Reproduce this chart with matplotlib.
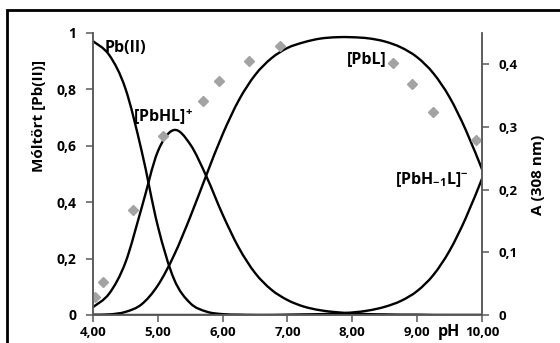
import numpy as np
import matplotlib
matplotlib.use("Agg")
import matplotlib.pyplot as plt
from matplotlib.path import Path
from matplotlib.patches import PathPatch, Rectangle
from matplotlib.ticker import FixedLocator, FuncFormatter

plt.rcParams["font.family"] = ["Open Sans", "DejaVu Sans"]
plt.rcParams["font.weight"] = "bold"
plt.rcParams["mathtext.fontset"] = "custom"
plt.rcParams["mathtext.rm"] = "Open Sans:bold"
plt.rcParams["mathtext.bf"] = "Open Sans:bold"
plt.rcParams["mathtext.it"] = "Open Sans:bold"

# Species distribution (mole fraction of Pb(II)) vs pH
ph = [4.00, 4.25, 4.50, 4.75, 5.00, 5.25, 5.50, 5.75, 6.00, 6.25, 6.50, 6.75, 7.00,
      7.25, 7.50, 7.75, 8.00, 8.25, 8.50, 8.75, 9.00, 9.25, 9.50, 9.75, 10.00]
pb_free = [0.971, 0.922, 0.803, 0.582, 0.315, 0.127, 0.042, 0.012, 0.003, 0.001, 0.000,
           0.000, 0.000, 0.000, 0.000, 0.000, 0.000, 0.000, 0.000, 0.000, 0.000, 0.000,
           0.000, 0.000, 0.000]
pbhl = [0.028, 0.076, 0.186, 0.380, 0.580, 0.656, 0.605, 0.491, 0.356, 0.238, 0.149,
        0.090, 0.053, 0.030, 0.017, 0.010, 0.006, 0.003, 0.002, 0.001, 0.001, 0.000,
        0.000, 0.000, 0.000]
pbl = [0.001, 0.002, 0.011, 0.038, 0.105, 0.212, 0.348, 0.497, 0.641, 0.762, 0.851,
       0.910, 0.947, 0.967, 0.980, 0.985, 0.985, 0.981, 0.970, 0.949, 0.914, 0.857,
       0.772, 0.656, 0.517]
pbh_1l = [0.000, 0.000, 0.000, 0.000, 0.000, 0.000, 0.000, 0.000, 0.000, 0.000, 0.000,
          0.000, 0.001, 0.002, 0.003, 0.005, 0.009, 0.016, 0.029, 0.050, 0.085, 0.142,
          0.228, 0.344, 0.483]

# Measured absorbance at 308 nm
ph_abs = [4.03, 4.16, 4.62, 5.08, 5.70, 5.95, 6.40, 6.88, 8.63, 8.92, 9.24, 9.90]
absorb = [0.028, 0.052, 0.168, 0.285, 0.342, 0.373, 0.406, 0.429, 0.402, 0.369, 0.324, 0.280]

x_ticks = [4, 5, 6, 7, 8, 9, 10]
y_ticks = [0, 0.2, 0.4, 0.6, 0.8, 1.0]
a_ticks = [0, 0.1, 0.2, 0.3, 0.4]


def smooth_path(x, y):
    """Smoothed polyline (Catmull-Rom as cubic Bezier segments)."""
    pts = np.column_stack([x, y]).astype(float)
    ext = np.vstack([pts[0], pts, pts[-1]])
    verts = [pts[0]]
    codes = [Path.MOVETO]
    for i in range(1, len(ext) - 2):
        p0, p1, p2, p3 = ext[i - 1], ext[i], ext[i + 1], ext[i + 2]
        c1 = p1 + (p2 - p0) / 6.0
        c2 = p2 - (p3 - p1) / 6.0
        verts += [c1, c2, p2]
        codes += [Path.CURVE4] * 3
    return Path(verts, codes)


W, H = 560, 343
fig = plt.figure(figsize=(W / 100, H / 100), dpi=100)
ax = fig.add_axes([93 / W, 1 - 315 / H, (482 - 93) / W, (315 - 33) / H])
ax2 = ax.twinx()

for series in (pb_free, pbhl, pbl, pbh_1l):
    ax.add_patch(PathPatch(smooth_path(ph, series), facecolor="none",
                           edgecolor="black", lw=1.7, capstyle="round"))

ax2.plot(ph_abs, absorb, linestyle="none", marker="D", ms=4.6,
         color="#a3a3a3", mec="#a3a3a3")

ax.set_xlim(4, 10)
ax.set_ylim(0, 1)
ax2.set_ylim(0, 0.45)

spine_c = "#595959"
for a in (ax, ax2):
    a.spines["top"].set_visible(False)
    for s in ("left", "right", "bottom"):
        a.spines[s].set_color(spine_c)
        a.spines[s].set_linewidth(1.1)
    a.patch.set_visible(False)

ax.xaxis.set_major_locator(FixedLocator(x_ticks))
ax.xaxis.set_major_formatter(FuncFormatter(lambda v, p: f"{v:.2f}".replace(".", ",")))
ax.yaxis.set_major_locator(FixedLocator(y_ticks))
ax.yaxis.set_major_formatter(FuncFormatter(
    lambda v, p: "0" if v == 0 else ("1" if v == 1 else f"{v:.1f}".replace(".", ","))))
ax2.yaxis.set_major_locator(FixedLocator(a_ticks))
ax2.yaxis.set_major_formatter(FuncFormatter(
    lambda v, p: "0" if v == 0 else f"{v:.1f}".replace(".", ",")))

ax.tick_params(axis="x", direction="out", length=5, width=1.1, color=spine_c,
               labelsize=9.5, pad=3)
ax.tick_params(axis="y", direction="out", length=5, width=1.1, color=spine_c,
               labelsize=10, pad=7)
ax2.tick_params(axis="y", direction="out", length=5, width=1.1, color=spine_c,
                labelsize=9.5, pad=7)

ax.set_ylabel("Móltört [Pb(II)]", fontsize=11, fontweight="bold")
ax.yaxis.set_label_coords((46 - 93) / 389, (315 - 116) / 282)
ax2.set_ylabel("A (308 nm)", fontsize=11, fontweight="bold")
ax2.yaxis.set_label_coords((531 - 93) / 389, (315 - 175) / 282)

ax.text(9.49, -0.062, "pH", transform=ax.get_xaxis_transform(), ha="center",
        va="center", fontsize=11.5, fontweight="bold")

lbl = dict(fontsize=11.5, fontweight="bold", va="center", ha="left")
ax.text(4.185, 0.946, "Pb(II)", **lbl)
ax.text(4.62, 0.703, r"[PbHL]$^{+}$", **lbl)
ax.text(7.915, 0.907, "[PbL]", **lbl)
ax.text(8.66, 0.482, r"[PbH$_{-1}$L]$^{-}$", **lbl)

# Outer frame running off the right and bottom edges
fig.patches.append(Rectangle((7 / W, -0.2), 1.2, 1.2 - 10 / H,
                             transform=fig.transFigure, fill=False,
                             edgecolor="black", lw=2.0))

fig.savefig("out.png", dpi=100)
